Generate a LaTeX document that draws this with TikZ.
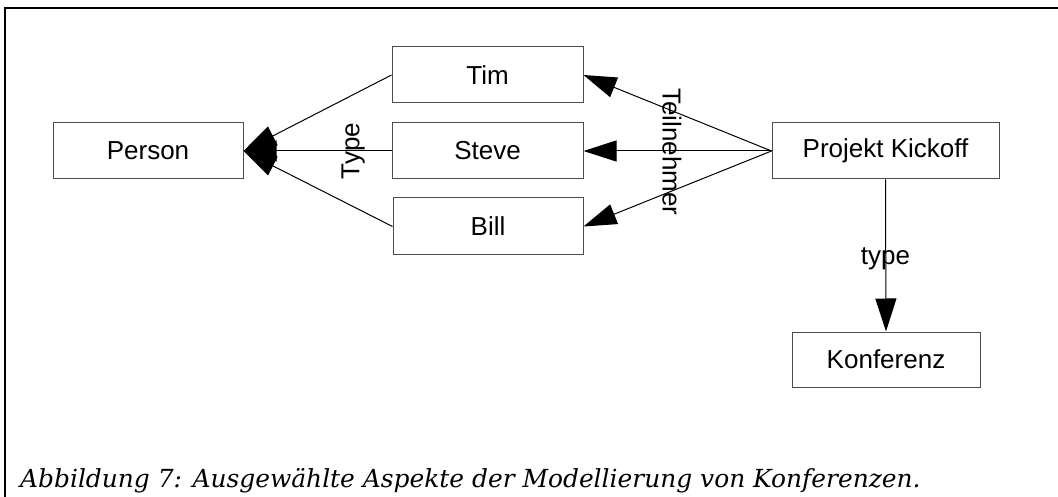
\documentclass[tikz,border=0pt]{standalone}
\usepackage{fontspec}
\setmainfont{Liberation Sans}
\newfontfamily\capfont{DejaVu Serif}
\usetikzlibrary{arrows.meta}
\begin{document}
\begin{tikzpicture}[x=1pt,y=-1pt,
  box/.style={draw=black!70, line width=1pt, minimum height=56pt, inner sep=0pt, font=\fontsize{26}{30}\selectfont},
  lbl/.style={inner sep=0pt, font=\fontsize{26}{30}\selectfont},
  tri/.style={line width=1pt, -{Triangle[length=33pt,width=21pt]}}]
\useasboundingbox (0,0) rectangle (1058,497);
\draw[line width=1.5pt] (1058,8) -- (5,8) -- (5,497);

\node[box, minimum width=190pt] (person) at (148,151){Person};
\node[box, minimum width=191pt] (tim) at (487.5,75){Tim};
\node[box, minimum width=191pt] (steve) at (487.5,151){Steve};
\node[box, minimum width=190pt, minimum height=57pt] (bill) at (488,226.5){Bill};
\node[box, minimum width=227pt] (kickoff) at (885.5,151){Projekt Kickoff};
\node[box, minimum width=188pt, minimum height=55pt] (konferenz) at (886,359.5){Konferenz};

\draw[tri](tim.west) -- (person.east);
\draw[tri](steve.west) -- (person.east);
\draw[tri](bill.west) -- (person.east);
\node[lbl, rotate=90] (typelabel) at (353,151){Type};

\draw[tri](kickoff.west) -- (tim.east);
\draw[tri](kickoff.west) -- (steve.east);
\draw[tri](kickoff.west) -- (bill.east);
\node[lbl, rotate=-90] (teilnehmer) at (672,152){Teilnehmer};

\draw[tri](kickoff.south) -- (konferenz.north);
\node[lbl] (instlabel) at (885.5,259){type};

\node[anchor=base west, inner sep=0pt, font=\capfont\itshape\fontsize{24.9}{29}\selectfont] (caption) at (20,487){Abbildung 7: Ausgewählte Aspekte der Modellierung von Konferenzen.};

\end{tikzpicture}
\end{document}
